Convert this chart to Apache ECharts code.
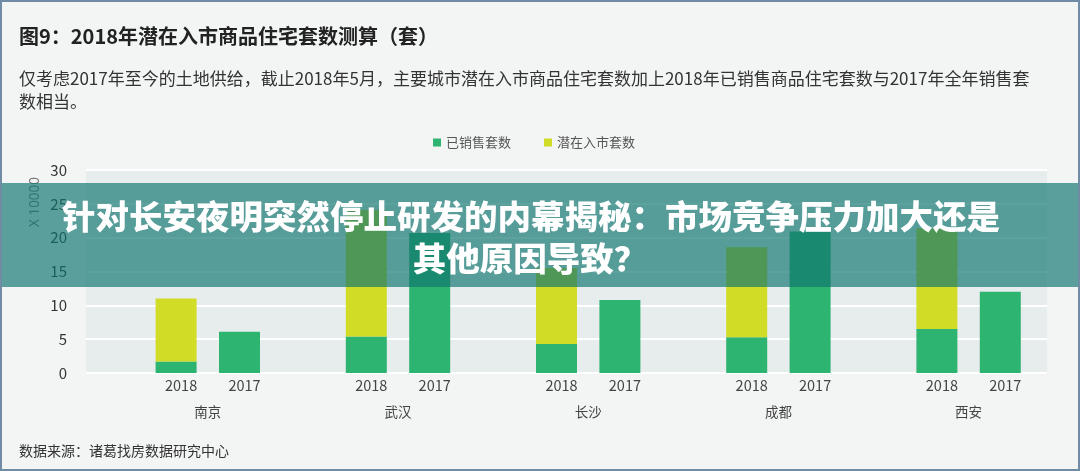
<!DOCTYPE html>
<html>
<head>
<meta charset="utf-8">
<script src="https://cdn.jsdelivr.net/npm/echarts@6/dist/echarts.min.js"></script>
<style>
html,body{margin:0;padding:0;background:#f3f4f4;}
#chart{width:1080px;height:471px;}
</style>
</head>
<body>
<div id="chart"></div>
<script>
const cities = ['南京', '武汉', '长沙', '成都', '西安'];
const years = ['2018', '2017'];
const sold2018 = [1.7, 5.4, 4.3, 5.3, 6.5];
const potential2018 = [9.3, 18.7, 11.2, 13.3, 14.9];
const sold2017 = [6.1, 20.7, 10.8, 20.9, 12.0];
const yMin = 0, yMax = 30, yStep = 5;
const seriesNames = ['已销售套数', '潜在入市套数'];
const titleText = '图9：2018年潜在入市商品住宅套数测算（套）';
const noteLines = ['仅考虑2017年至今的土地供给，截止2018年5月，主要城市潜在入市商品住宅套数加上2018年已销售商品住宅套数与2017年全年销售套', '数相当。'];
const sourceText = '数据来源：诸葛找房数据研究中心';
const unitText = 'X 10000';
const bannerLines = ['针对长安夜明突然停止研发的内幕揭秘：市场竞争压力加大还是', '其他原因导致？'];

const FONT = '"Noto Sans CJK SC", "Noto Sans", sans-serif';
const GREEN = '#2eb471', YELLOW = '#d1dc27';

// slot layout: [blank, 2018, 2017] per city
const slots = [];
cities.forEach(c => { slots.push(c + '|'); years.forEach(y => slots.push(c + '|' + y)); });
const cityTicks = new Array(slots.length + 1).fill('');
cities.forEach((c, k) => { cityTicks[3 * k + 2] = c; });

function pick(arr, pos) {
  return slots.map((s, i) => (i % 3 === pos ? arr[Math.floor(i / 3)] : '-'));
}

const chart = echarts.init(document.getElementById('chart'), null, {renderer: 'canvas'});
chart.setOption({
  backgroundColor: '#f3f4f4',
  animation: false,
  textStyle: {fontFamily: FONT},
  title: [
    {text: titleText, left: 14, top: 21, textStyle: {fontFamily: FONT, fontSize: 20, fontWeight: 'bold', color: '#222'}},
    {text: noteLines.join('\n'), left: 14, top: 62, textStyle: {fontFamily: FONT, fontSize: 17, fontWeight: 'normal', color: '#333', lineHeight: 23}},
    {text: sourceText, left: 14, top: 439, textStyle: {fontFamily: FONT, fontSize: 14, fontWeight: 'normal', color: '#333'}}
  ],
  legend: {
    left: 428, top: 131, icon: 'rect', itemWidth: 8, itemHeight: 8, itemGap: 33,
    data: seriesNames,
    textStyle: {fontFamily: FONT, fontSize: 13, color: '#555'}
  },
  grid: [
    {left: 86, right: 33, top: 170, bottom: 98, show: true, backgroundColor: '#e7ecec', borderWidth: 0},
    {left: 81, width: 951, top: 170, bottom: 98}
  ],
  xAxis: [
    {gridIndex: 0, type: 'value', min: 0, max: 1, show: false},
    {gridIndex: 1, type: 'category', data: slots,
      axisLine: {show: false}, axisTick: {show: false},
      axisLabel: {interval: 0, margin: 5, fontSize: 14.5, color: '#444', fontFamily: FONT,
        padding: [0, 0, 0, 10],
        formatter: v => v.split('|')[1]}},
    {gridIndex: 1, type: 'category', data: cityTicks, boundaryGap: false, position: 'bottom',
      axisLine: {show: false}, axisTick: {show: false},
      axisLabel: {interval: 0, margin: 32, fontSize: 13.5, color: '#444', fontFamily: FONT}}
  ],
  yAxis: [
    {gridIndex: 0, type: 'value', min: yMin, max: yMax, interval: yStep,
      axisLine: {show: false}, axisTick: {show: false},
      axisLabel: {margin: 19, fontSize: 15, color: '#333', fontFamily: FONT},
      splitLine: {show: true, lineStyle: {color: '#ffffff', width: 2}}},
    {gridIndex: 1, type: 'value', min: yMin, max: yMax, interval: yStep, show: false}
  ],
  series: [
    {name: seriesNames[0], type: 'bar', xAxisIndex: 1, yAxisIndex: 1, stack: 'a', barWidth: 41,
      itemStyle: {color: GREEN}, data: pick(sold2018, 1)},
    {name: seriesNames[1], type: 'bar', xAxisIndex: 1, yAxisIndex: 1, stack: 'a', barWidth: 41,
      itemStyle: {color: YELLOW}, data: pick(potential2018, 1)},
    {name: seriesNames[0], type: 'bar', xAxisIndex: 1, yAxisIndex: 1, stack: 'a', barWidth: 41,
      itemStyle: {color: GREEN}, data: pick(sold2017, 2)}
  ],
  graphic: [
    {type: 'text', x: 35, y: 202, rotation: Math.PI / 2, z: 10,
      style: {text: unitText, fill: '#777', font: '13.5px "Noto Sans", sans-serif', textAlign: 'center', textVerticalAlign: 'middle'}},
    {type: 'rect', shape: {x: 0, y: 183, width: 1080, height: 104}, z: 100,
      style: {fill: 'rgba(15,117,111,0.67)'}},
    {type: 'text', x: 531, y: 216, z: 101,
      style: {text: bannerLines[0], fill: '#ffffff', font: '900 33.5px "Noto Sans CJK SC", sans-serif', textAlign: 'center', textVerticalAlign: 'middle'}},
    {type: 'text', x: 530, y: 258, z: 101,
      style: {text: bannerLines[1], fill: '#ffffff', font: '900 33.5px "Noto Sans CJK SC", sans-serif', textAlign: 'center', textVerticalAlign: 'middle'}},
    {type: 'rect', shape: {x: 1, y: 1, width: 1078, height: 469}, z: 120,
      style: {fill: 'none', stroke: '#6f8ca4', lineWidth: 2}}
  ]
});
</script>
</body>
</html>
